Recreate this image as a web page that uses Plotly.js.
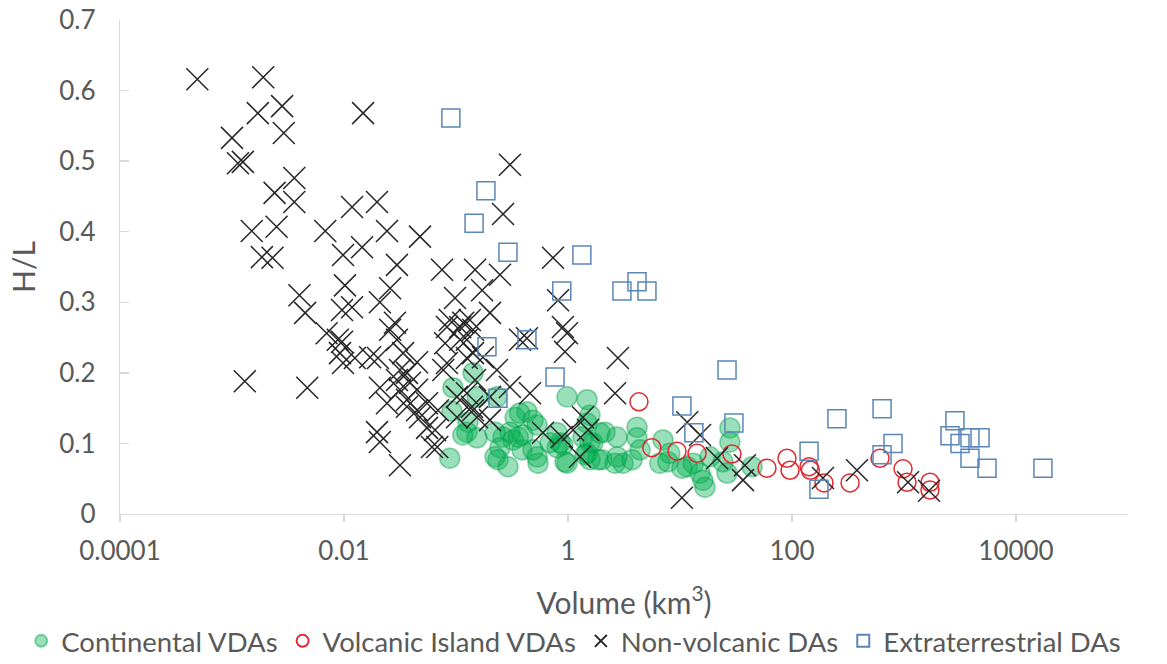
<!DOCTYPE html>
<html>
<head>
<meta charset="utf-8">
<script src="https://cdn.plot.ly/plotly-3.0.1.min.js"></script>
<style>
  html, body { margin: 0; padding: 0; background: #ffffff; }
  #chart { width: 1167px; height: 664px; }
</style>
</head>
<body>
<div id="chart"></div>
<script>
// Continental volcanic debris avalanches: volume (km3) and H/L
const continentalVol = [0.142, 0.094, 0.154, 0.092, 0.128, 0.125, 0.154, 0.088, 0.232, 0.263,
  0.247, 0.237, 0.291, 0.337, 0.43, 0.487, 0.54, 0.487, 0.323, 0.396,
  0.69, 0.98, 0.94, 1.48, 1.57, 1.57, 0.303, 0.36, 0.37, 0.53,
  0.388, 0.53, 0.80, 0.90, 0.80, 1.48, 1.36, 1.67, 1.48, 2.14,
  2.01, 2.74, 3.10, 1.57, 1.93, 2.63, 3.73, 1.85, 0.98, 1.42,
  0.85, 4.13, 4.13, 2.74, 7.05, 8.1, 6.6, 7.8, 11.6, 15.1,
  16.7, 16.0, 18.5, 24.2, 26.3, 27.9, 27.9, 44.0, 13.1, 0.115,
  0.223, 0.223, 4.4, 10.4];
const continentalHL = [0.200, 0.179, 0.166, 0.146, 0.130, 0.116, 0.108, 0.079, 0.166, 0.109,
  0.094, 0.077, 0.067, 0.137, 0.145, 0.133, 0.072, 0.091, 0.105, 0.112,
  0.101, 0.166, 0.074, 0.162, 0.101, 0.077, 0.116, 0.109, 0.143, 0.126,
  0.091, 0.081, 0.115, 0.098, 0.094, 0.129, 0.109, 0.101, 0.086, 0.116,
  0.077, 0.109, 0.072, 0.140, 0.115, 0.072, 0.077, 0.077, 0.072, 0.084,
  0.101, 0.123, 0.108, 0.081, 0.105, 0.086, 0.072, 0.074, 0.067, 0.058,
  0.038, 0.048, 0.081, 0.074, 0.058, 0.122, 0.102, 0.067, 0.072, 0.112,
  0.081, 0.116, 0.091, 0.065];

// Volcanic island debris avalanches
const islandVol = [4.3, 5.6, 9.4, 14.2, 29.1, 59.8, 90.2, 96, 142, 146,
  193, 330, 611, 980, 1064, 1706, 1706];
const islandHL = [0.159, 0.094, 0.089, 0.086, 0.085, 0.065, 0.079, 0.062, 0.067, 0.062,
  0.044, 0.044, 0.079, 0.064, 0.045, 0.045, 0.034];

// Non-volcanic debris avalanches
const nonVolcanicVol = [0.00049, 0.0019, 0.0017, 0.0028, 0.0029, 0.0010, 0.00113, 0.00125, 0.0024, 0.0036,
  0.0036, 0.0148, 0.0015, 0.0025, 0.00185, 0.0023, 0.0068, 0.0118, 0.0197, 0.0242,
  0.0477, 0.0098, 0.0145, 0.0297, 0.075, 0.148, 0.247, 0.0013, 0.0040, 0.0102,
  0.0258, 0.098, 0.171, 0.303, 0.263, 0.735, 0.815, 0.90, 0.98, 0.94,
  2.79, 2.63, 0.201, 0.083, 0.116, 0.142, 0.373, 0.0045, 0.0096, 0.0118,
  0.0209, 0.0285, 0.0258, 0.0070, 0.0088, 0.0098, 0.0047, 0.0297, 0.0201, 0.0125,
  0.0337, 0.0449, 0.0316, 0.0209, 0.0316, 0.0388, 0.0242, 0.0365, 0.0551, 0.0477,
  0.069, 0.088, 0.109, 0.133, 0.080, 0.083, 0.125, 0.148, 0.125, 0.142,
  0.0197, 0.0209, 0.0316, 0.0551, 0.061, 0.0092, 0.0171, 0.0365, 0.0297, 0.0449,
  0.0365, 0.0449, 0.109, 0.142, 0.174, 0.232, 0.303, 0.458, 0.201, 0.154,
  0.102, 0.102, 0.065, 0.598, 1.28, 1.36, 1.51, 0.43, 0.139, 0.201,
  0.077, 0.125, 0.068, 1.11, 0.88, 11.6, 15.1, 10.4, 21.4, 38.0,
  36.5, 189, 380, 1086, 1672, 0.0096];
const nonVolcanicHL = [0.616, 0.619, 0.568, 0.578, 0.540, 0.533, 0.497, 0.499, 0.455, 0.476,
  0.442, 0.568, 0.401, 0.407, 0.364, 0.363, 0.401, 0.435, 0.442, 0.401,
  0.393, 0.367, 0.378, 0.353, 0.346, 0.346, 0.339, 0.188, 0.310, 0.324,
  0.320, 0.306, 0.317, 0.495, 0.425, 0.363, 0.303, 0.265, 0.256, 0.230,
  0.221, 0.171, 0.285, 0.265, 0.271, 0.261, 0.247, 0.285, 0.289, 0.293,
  0.300, 0.271, 0.261, 0.256, 0.247, 0.214, 0.179, 0.247, 0.221, 0.221,
  0.228, 0.215, 0.204, 0.179, 0.176, 0.186, 0.157, 0.152, 0.157, 0.137,
  0.147, 0.275, 0.265, 0.275, 0.242, 0.214, 0.221, 0.190, 0.171, 0.147,
  0.116, 0.102, 0.069, 0.122, 0.095, 0.228, 0.222, 0.200, 0.190, 0.176,
  0.162, 0.147, 0.247, 0.228, 0.222, 0.204, 0.180, 0.171, 0.166, 0.137,
  0.166, 0.137, 0.119, 0.115, 0.081, 0.137, 0.119, 0.249, 0.152, 0.133,
  0.204, 0.247, 0.095, 0.119, 0.109, 0.130, 0.112, 0.023, 0.079, 0.069,
  0.048, 0.051, 0.062, 0.045, 0.033, 0.244];

// Extraterrestrial debris avalanches
const extraVol = [0.090, 0.185, 0.145, 0.291, 1.33, 0.88, 3.03, 4.13, 5.07, 0.189,
  0.43, 0.766, 0.237, 26.3, 10.4, 13.3, 30.3, 142, 174, 252,
  637, 798, 637, 2851, 2575, 3162, 3882, 4775, 3882, 5508,
  17400];
const extraHL = [0.561, 0.458, 0.412, 0.371, 0.367, 0.316, 0.316, 0.329, 0.316, 0.237,
  0.247, 0.194, 0.164, 0.204, 0.153, 0.115, 0.129, 0.089, 0.035, 0.135,
  0.149, 0.100, 0.084, 0.132, 0.111, 0.100, 0.108, 0.108, 0.079, 0.065,
  0.065];

const xTickVals = [0.0001, 0.01, 1, 100, 10000];
const xTickText = ['0.0001', '0.01', '1', '100', '10000'];

const FONT = 'Lato, "Open Sans", sans-serif';
const GREY = '#595959';
const AXIS = '#d9d9d9';

const traces = [
  {
    name: 'Continental VDAs', x: continentalVol, y: continentalHL,
    type: 'scatter', mode: 'markers',
    marker: { symbol: 'circle', size: 20, color: 'rgba(0,176,80,0.40)',
              line: { color: 'rgba(0,160,70,0.45)', width: 1.5 } }
  },
  {
    name: 'Volcanic Island VDAs', x: islandVol, y: islandHL,
    type: 'scatter', mode: 'markers',
    marker: { symbol: 'circle-open', size: 18, color: '#e0282e',
              line: { width: 1.5 } }
  },
  {
    name: 'Non-volcanic DAs', x: nonVolcanicVol, y: nonVolcanicHL,
    type: 'scatter', mode: 'markers',
    marker: { symbol: 'x-thin-open', size: 22, color: '#262626',
              line: { color: '#262626', width: 1.5 } }
  },
  {
    name: 'Extraterrestrial DAs', x: extraVol, y: extraHL,
    type: 'scatter', mode: 'markers',
    marker: { symbol: 'square-open', size: 18, color: '#5a86b8',
              line: { width: 1.5 } }
  }
];

const layout = {
  width: 1167, height: 664,
  paper_bgcolor: '#ffffff', plot_bgcolor: '#ffffff',
  font: { family: FONT, color: GREY, size: 26 },
  margin: { l: 120, r: 39, t: 20, b: 150, autoexpand: false },
  showlegend: true,
  legend: {
    orientation: 'h', xref: 'paper', yref: 'paper',
    x: -0.098, y: -0.257, xanchor: 'left', yanchor: 'middle',
    font: { family: FONT, color: GREY, size: 27.5 },
    itemsizing: 'constant', bgcolor: 'rgba(0,0,0,0)'
  },
  xaxis: {
    type: 'log', range: [-4, 5],
    tickvals: xTickVals, ticktext: xTickText,
    ticks: 'outside', ticklen: 7, tickcolor: AXIS, tickwidth: 1.3,
    showline: true, linecolor: AXIS, linewidth: 1.3,
    showgrid: false, zeroline: false,
    tickfont: { family: FONT, color: GREY, size: 26 },
    ticklabelstandoff: 6,
    title: { text: 'Volume (km<sup>3</sup>)', font: { family: FONT, color: GREY, size: 30 }, standoff: 28 }
  },
  yaxis: {
    range: [0, 0.7], dtick: 0.1, tick0: 0,
    ticks: 'inside', ticklen: 9, tickcolor: AXIS, tickwidth: 1.3,
    showline: true, linecolor: AXIS, linewidth: 1.3,
    showgrid: false, zeroline: false,
    tickfont: { family: FONT, color: GREY, size: 26 },
    ticklabelstandoff: 18,
    title: { text: 'H/L', font: { family: FONT, color: GREY, size: 30 }, standoff: 14 }
  },
  hovermode: false
};

Plotly.newPlot('chart', traces, layout, { displayModeBar: false, staticPlot: true });
</script>
</body>
</html>
